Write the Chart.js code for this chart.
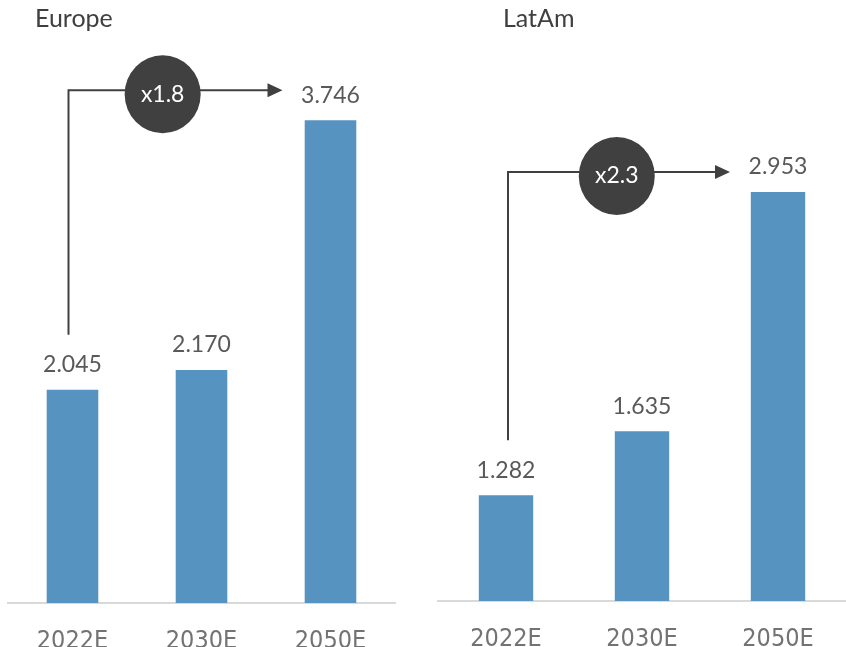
<!DOCTYPE html>
<html>
<head>
<meta charset="utf-8">
<script src="https://cdn.jsdelivr.net/npm/chart.js@4.4.1/dist/chart.umd.min.js"></script>
<style>
  html, body { margin: 0; padding: 0; background: #fff; }
  #wrap { position: relative; width: 846px; height: 647px; }
  canvas { position: absolute; top: 0; }
</style>
</head>
<body>
<div id="wrap">
  <canvas id="europe" width="420" height="647" style="left:0"></canvas>
  <canvas id="latam" width="420" height="647" style="left:426px"></canvas>
</div>
<script>
const years = ["2022E", "2030E", "2050E"];
const europeValues = [2.045, 2.170, 3.746];
const latamValues = [1.282, 1.635, 2.953];
const europeGrowth = "x1.8";
const latamGrowth = "x2.3";

// value labels, titles and the growth arrow
const overlay = {
  id: "overlay",
  afterDatasetsDraw(chart, args, opts) {
    const ctx = chart.ctx;
    const bars = chart.getDatasetMeta(0).data;
    const values = chart.data.datasets[0].data;
    ctx.save();

    ctx.font = "23px Lato";
    ctx.fillStyle = "#595959";
    ctx.textAlign = "center";
    ctx.textBaseline = "middle";
    bars.forEach((b, i) => ctx.fillText(values[i].toFixed(3), b.x, b.y - 25));

    ctx.textAlign = "left";
    ctx.textBaseline = "alphabetic";
    ctx.font = "25px Lato";
    ctx.fillStyle = "#404040";
    ctx.fillText(opts.title, opts.titleX, 27);

    const first = bars[0];
    const last = bars[bars.length - 1];
    const x0 = first.x + opts.lineShift;
    const y0 = first.y - 55;
    const yl = last.y - opts.lineOffset;
    const tip = last.x - 48;
    ctx.strokeStyle = "#404040";
    ctx.fillStyle = "#404040";
    ctx.lineWidth = 2;
    ctx.beginPath();
    ctx.moveTo(x0, y0);
    ctx.lineTo(x0, yl);
    ctx.lineTo(tip - 12, yl);
    ctx.stroke();
    ctx.beginPath();
    ctx.moveTo(tip, yl);
    ctx.lineTo(tip - 15, yl - 7);
    ctx.lineTo(tip - 15, yl + 7);
    ctx.closePath();
    ctx.fill();

    const cx = x0 + (tip - x0) * opts.badgeAt;
    const cy = yl + 4;
    ctx.beginPath();
    ctx.ellipse(cx, cy, 38, 39, 0, 0, Math.PI * 2);
    ctx.fill();
    ctx.fillStyle = "#ffffff";
    ctx.font = "23px Lato";
    ctx.textAlign = "center";
    ctx.textBaseline = "middle";
    ctx.fillText(opts.growth, cx, cy);
    ctx.restore();
  }
};

function makeChart(id, values, opts) {
  new Chart(document.getElementById(id), {
    type: "bar",
    data: {
      labels: years,
      datasets: [{
        data: values,
        backgroundColor: "#5793c1",
        barPercentage: 0.4,
        categoryPercentage: 1
      }]
    },
    options: {
      responsive: false,
      animation: false,
      layout: { padding: { top: 80, left: opts.padLeft, right: opts.padRight, bottom: 0 } },
      plugins: {
        legend: { display: false },
        tooltip: { enabled: false },
        overlay: opts
      },
      scales: {
        x: {
          grid: { display: false },
          border: { color: "#d9d9d9", width: 2 },
          ticks: {
            color: "#737373",
            font: { family: "'Liberation Sans Narrow', 'DejaVu Sans Condensed', Lato", size: 25 },
            padding: 15
          },
          afterFit: (s) => { s.height = opts.axisHeight; }
        },
        y: { display: false, min: 0.7, max: opts.max }
      }
    },
    plugins: [overlay]
  });
}

makeChart("europe", europeValues, {
  title: "Europe", titleX: 35, growth: europeGrowth,
  padLeft: 8, padRight: 25, axisHeight: 44, max: 4.0,
  lineShift: -4, lineOffset: 30, badgeAt: 0.44
});

makeChart("latam", latamValues, {
  title: "LatAm", titleX: 77, growth: latamGrowth,
  padLeft: 12, padRight: 0, axisHeight: 46, max: 3.57,
  lineShift: 2, lineOffset: 20, badgeAt: 0.49
});
</script>
</body>
</html>
